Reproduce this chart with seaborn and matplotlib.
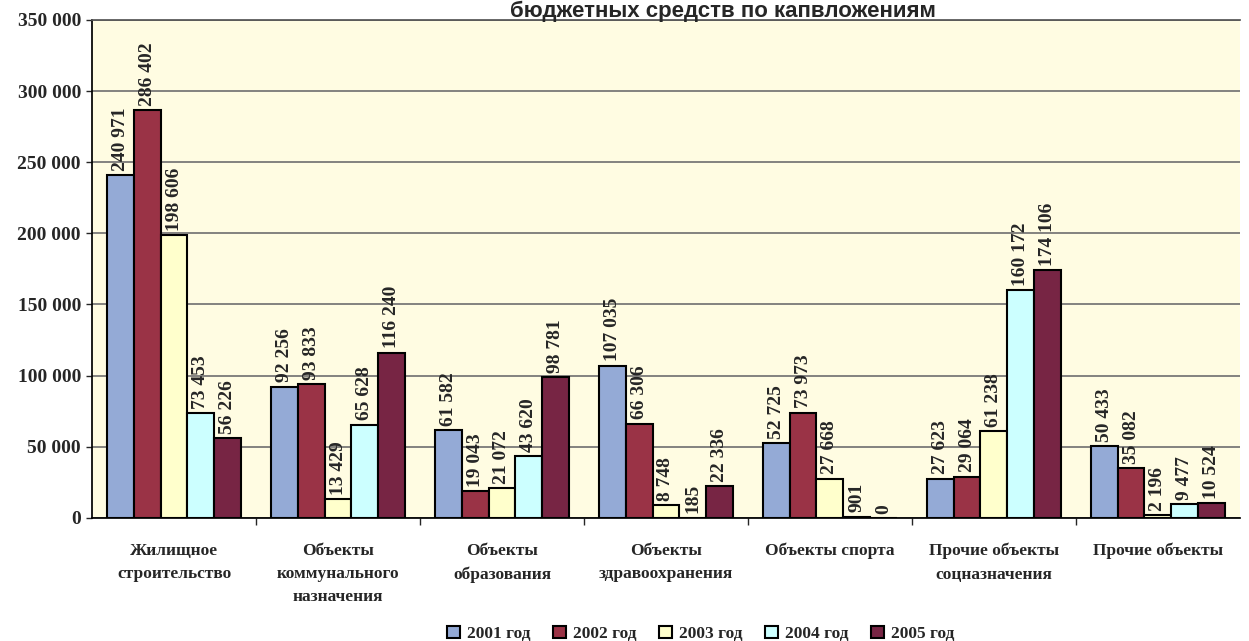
import numpy as np
import pandas as pd
import matplotlib.pyplot as plt
import seaborn as sns

# --- данные (с подписей на столбцах) ---
categories = ['Жилищное\nстроительство', 'Объекты\nкоммунального\nназначения',
              'Объекты\nобразования', 'Объекты\nздравоохранения', 'Объекты спорта',
              'Прочие объекты\nсоцназначения', 'Прочие объекты']
years = ['2001 год', '2002 год', '2003 год', '2004 год', '2005 год']
v2001 = [240971, 92256, 61582, 107035, 52725, 27623, 50433]
v2002 = [286402, 93833, 19043, 66306, 73973, 29064, 35082]
v2003 = [198606, 13429, 21072, 8748, 27668, 61238, 2196]
v2004 = [73453, 65628, 43620, 185, 901, 160172, 9477]
v2005 = [56226, 116240, 98781, 22336, 0, 174106, 10524]

colors = ['#94AAD6', '#9A3346', '#FFFFCC', '#CCFFFF', '#772544']

df = pd.DataFrame({
    'cat': categories * 5,
    'year': np.repeat(years, len(categories)),
    'value': v2001 + v2002 + v2003 + v2004 + v2005,
})

sns.set_theme(style='white')
plt.rcParams['font.family'] = ['Liberation Serif', 'DejaVu Serif']

fig = plt.figure(figsize=(12.49, 6.41), dpi=100)
ax = fig.add_axes([0.0737, 0.192, 0.919, 0.777])
ax.set_facecolor('#FFFCE2')

sns.barplot(data=df, x='cat', y='value', hue='year', palette=colors, saturation=1,
            width=0.82, edgecolor='black', linewidth=1.5, ax=ax, legend=True)

for cont in ax.containers:
    ax.bar_label(cont, labels=[f'{int(h):,}'.replace(',', ' ') for h in cont.datavalues],
                 rotation=90, padding=3, fontsize=14, fontweight='bold')

ax.set_ylim(0, 350000)
ax.set_xlim(-0.5, 6.5)
ax.set_yticks(range(0, 350001, 50000))
ax.set_yticklabels([f'{t:,}'.replace(',', ' ') for t in range(0, 350001, 50000)],
                   fontsize=14, fontweight='bold')
ax.yaxis.grid(True, color='#6E6E6E', linewidth=1.2)
ax.set_axisbelow(True)
ax.tick_params(axis='y', left=True, length=4, width=1, pad=4)
ax.tick_params(axis='x', bottom=False, labelsize=12.5, pad=12)
for lbl in ax.get_xticklabels():
    lbl.set_fontweight('bold')
    lbl.set_linespacing(1.6)
    lbl.set_va('top')
ax.set_xticks(np.arange(0.5, 6.5, 1), minor=True)
ax.tick_params(axis='x', which='minor', bottom=True, length=5, width=1)
ax.set_xlabel('')
ax.set_ylabel('')

ax.spines['right'].set_visible(False)
ax.spines['top'].set_color('#555555')
ax.spines['left'].set_color('black')
ax.spines['bottom'].set_color('black')

ax.legend(loc='upper center', bbox_to_anchor=(0.53, -0.185), ncol=5, frameon=False,
          prop={'weight': 'bold', 'size': 12.5}, handlelength=0.75, handleheight=0.75,
          handletextpad=0.4, columnspacing=1.3)

fig.text(0.408, 1 - 17 / 641, 'бюджетных средств по капвложениям', ha='left',
         va='baseline', fontsize=16, fontweight='bold', family=['Liberation Sans', 'DejaVu Sans'])

fig.savefig('out.png', dpi=100)
